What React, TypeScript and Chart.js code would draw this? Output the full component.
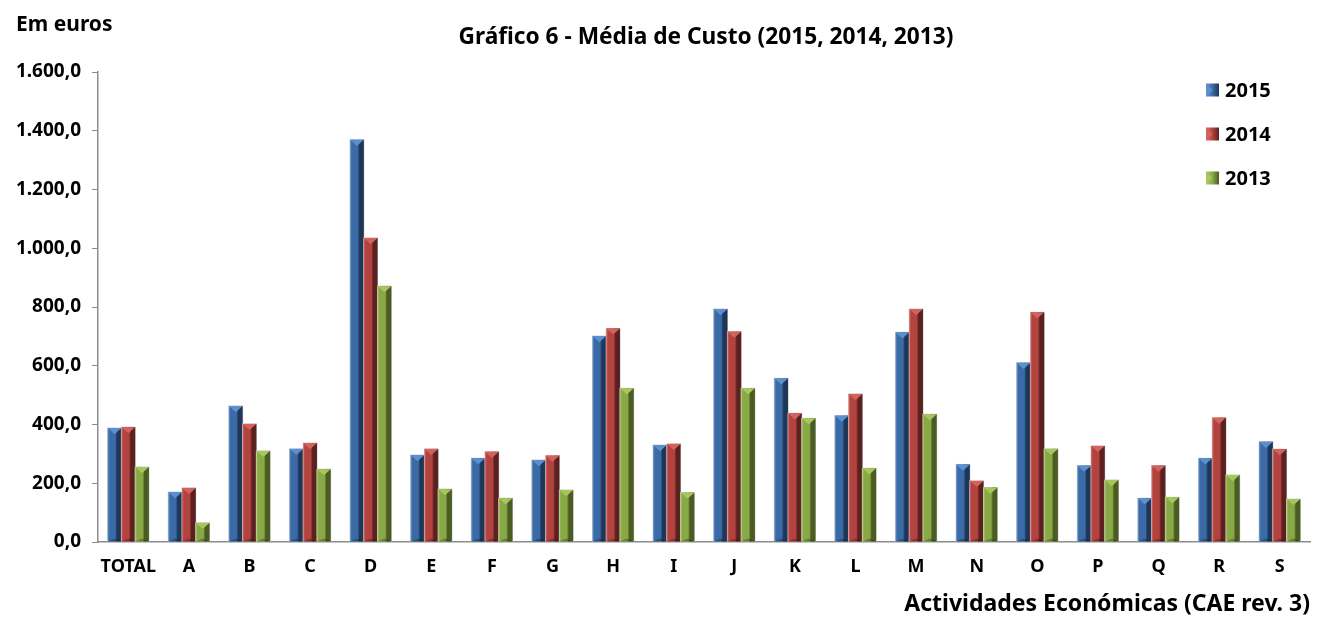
import React, { useEffect, useRef } from "react";
import { Chart, registerables } from "chart.js";

Chart.register(...registerables);

const categories = ["TOTAL", "A", "B", "C", "D", "E", "F", "G", "H", "I", "J", "K", "L", "M", "N", "O", "P", "Q", "R", "S"];
const values2015 = [388, 170, 463, 317, 1369, 296, 285, 279, 701, 330, 793, 557, 430, 714, 264, 610, 260, 149, 285, 341];
const values2014 = [391, 184, 402, 337, 1035, 317, 307, 294, 727, 334, 716, 438, 504, 793, 208, 782, 327, 260, 423, 316];
const values2013 = [255, 65, 310, 248, 871, 180, 149, 177, 523, 168, 523, 421, 251, 435, 185, 317, 211, 152, 228, 146];
const seriesLabels = ["2015", "2014", "2013"];
const yTicks = [0, 200, 400, 600, 800, 1000, 1200, 1400, 1600];

const FONT = '"Noto Sans", "Open Sans", sans-serif';
const palette = [
  { main: "#3b6ba6", light: "#6b97cf", dark: "#1e3657", top: "#5b8fd0" },
  { main: "#b3433f", light: "#d8716d", dark: "#5a2120", top: "#d5615c" },
  { main: "#89a846", light: "#aecb6a", dark: "#4a5c22", top: "#a5c75b" },
];

function fmt(v: number): string {
  const s = Math.round(v).toString().replace(/\B(?=(\d{3})+(?!\d))/g, ".");
  return s + ",0";
}

const bevelPlugin = {
  id: "bevel",
  afterDatasetsDraw(chart: any) {
    const ctx = chart.ctx;
    chart.data.datasets.forEach((_ds: any, di: number) => {
      const meta = chart.getDatasetMeta(di);
      const c = palette[di];
      meta.data.forEach((bar: any) => {
        const { x, y, base, width } = bar.getProps(["x", "y", "base", "width"], true);
        const l = x - width / 2;
        const r = x + width / 2;
        const h = base - y;
        ctx.save();
        ctx.fillStyle = "#c8c8c8";
        ctx.fillRect(l - 0.5, y - 0.5, width + 1, h + 0.5);
        const g = ctx.createLinearGradient(l, 0, r, 0);
        g.addColorStop(0, c.light);
        g.addColorStop(0.12, c.main);
        g.addColorStop(0.55, c.main);
        g.addColorStop(0.68, c.dark);
        g.addColorStop(1, c.dark);
        ctx.fillStyle = g;
        ctx.fillRect(l, y, width, h);
        const bev = Math.min(width * 0.45, h);
        ctx.fillStyle = c.top;
        ctx.beginPath();
        ctx.moveTo(l, y);
        ctx.lineTo(r, y);
        ctx.lineTo(x, y + bev);
        ctx.closePath();
        ctx.fill();
        ctx.fillStyle = "rgba(0,0,0,0.25)";
        ctx.beginPath();
        ctx.moveTo(l, base);
        ctx.lineTo(r, base);
        ctx.lineTo(x, base - Math.min(bev * 0.5, h));
        ctx.closePath();
        ctx.fill();
        ctx.restore();
      });
    });
  },
  afterDraw(chart: any) {
    const ctx = chart.ctx;
    const area = chart.chartArea;
    ctx.save();
    ctx.fillStyle = "#000";
    ctx.textBaseline = "middle";
    ctx.font = `bold 22.7px ${FONT}`;
    ctx.textAlign = "center";
    ctx.fillText("Gráfico 6 - Média de Custo (2015, 2014, 2013)", 706, 38);
    ctx.font = `bold 21px ${FONT}`;
    ctx.textAlign = "left";
    ctx.fillText("Em euros", 16, 25);
    ctx.font = `bold 23px ${FONT}`;
    ctx.textAlign = "right";
    ctx.fillText("Actividades Económicas (CAE rev. 3)", area.right, 604);
    seriesLabels.forEach((lab, i) => {
      const cy = 90 + i * 44;
      const c = palette[i];
      const sx = 1206;
      const g = ctx.createLinearGradient(sx, 0, sx + 13, 0);
      g.addColorStop(0, c.light);
      g.addColorStop(0.5, c.main);
      g.addColorStop(1, c.dark);
      ctx.fillStyle = g;
      ctx.fillRect(sx, cy - 6.5, 13, 13);
      ctx.fillStyle = c.top;
      ctx.beginPath();
      ctx.moveTo(sx, cy - 6.5);
      ctx.lineTo(sx + 6.5, cy);
      ctx.lineTo(sx, cy + 6.5);
      ctx.closePath();
      ctx.fill();
      ctx.fillStyle = "#000";
      ctx.font = `bold 20px ${FONT}`;
      ctx.textAlign = "left";
      ctx.fillText(lab, 1225, cy + 1);
    });
    ctx.restore();
  },
};

export default function App() {
  const ref = useRef<HTMLCanvasElement | null>(null);
  useEffect(() => {
    document.body.style.margin = "0";
    const canvas = ref.current!;
    const chart = new Chart(canvas, {
      type: "bar",
      data: {
        labels: categories,
        datasets: [values2015, values2014, values2013].map((d, i) => ({
          label: seriesLabels[i],
          data: d,
          backgroundColor: palette[i].main,
          borderWidth: 0,
          categoryPercentage: 0.68,
          barPercentage: 1,
        })),
      },
      options: {
        animation: false,
        responsive: false,
        maintainAspectRatio: false,
        layout: { padding: { top: 72, right: 23, left: 0, bottom: 0 } },
        plugins: { legend: { display: false }, title: { display: false }, tooltip: { enabled: false } },
        scales: {
          x: {
            grid: { display: false, drawTicks: false },
            border: { display: true, color: "#8c8c8c", width: 1.5 },
            ticks: { color: "#000", font: { family: FONT, size: 18, weight: "bold" }, padding: 14, maxRotation: 0, autoSkip: false },
            afterFit: (s: any) => { s.height = 75; },
          },
          y: {
            min: 0,
            max: 1600,
            afterBuildTicks: (s: any) => { s.ticks = yTicks.map((v) => ({ value: v })); },
            grid: { drawOnChartArea: false, drawTicks: true, tickLength: 6, color: "#8c8c8c" },
            border: { display: true, color: "#8c8c8c", width: 1.5 },
            ticks: { color: "#000", font: { family: FONT, size: 19, weight: "bold" }, padding: 11, callback: (v: any) => fmt(Number(v)) },
            afterFit: (s: any) => { s.width = 98; },
          },
        },
      },
      plugins: [bevelPlugin],
    });
    return () => chart.destroy();
  }, []);
  return (
    <div style={{ position: "absolute", left: 0, top: 0, width: 1333, height: 617, background: "#fff" }}>
      <canvas ref={ref} width={1333} height={617} style={{ width: 1333, height: 617 }} />
    </div>
  );
}
